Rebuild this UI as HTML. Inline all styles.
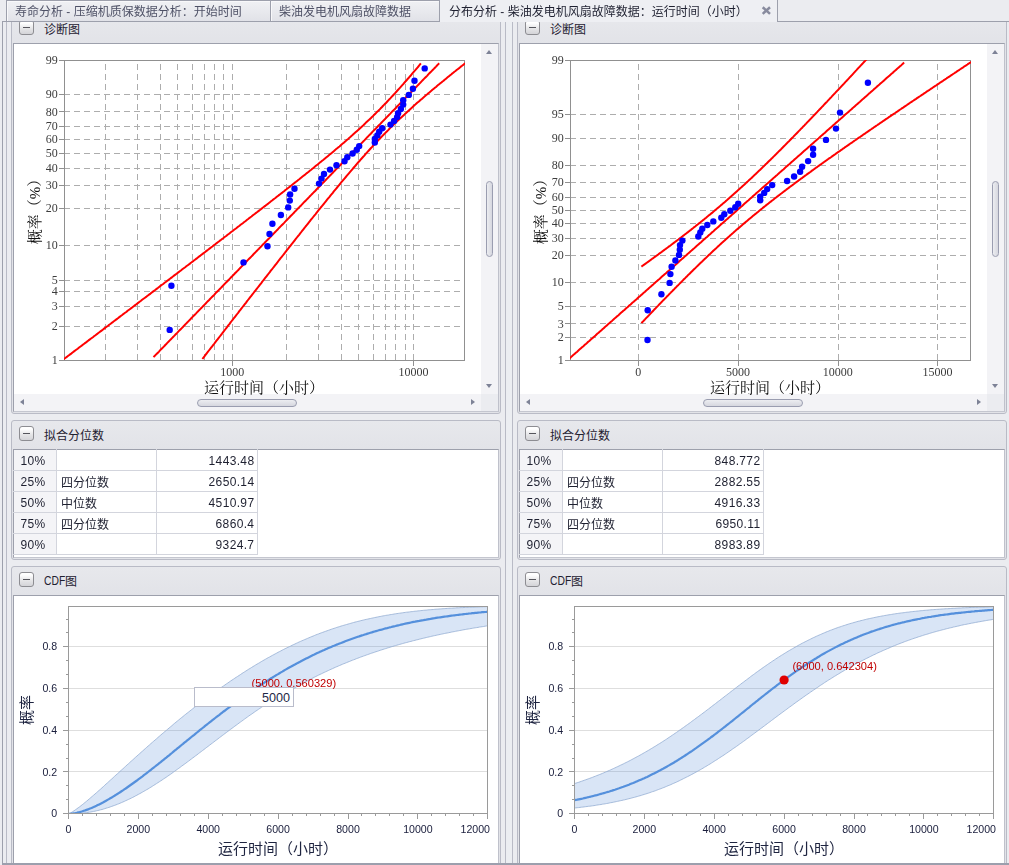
<!DOCTYPE html>
<html lang="zh"><head><meta charset="utf-8"><title>分布分析</title>
<style>
*{box-sizing:border-box;margin:0;padding:0}
html,body{width:1009px;height:865px;overflow:hidden}
body{background:#ebecf0;font-family:"Liberation Sans",sans-serif;font-size:11.8px;color:#1e2030;position:relative}
svg.g,svg.c,div.pn,div.bx,div.bt,table.tb,div.ab{position:absolute}
svg.g{overflow:visible}
svg.g text{font-family:"Liberation Sans","Noto Sans CJK SC",sans-serif}
svg.g text.sf{font-family:"Liberation Serif","Noto Serif CJK SC",serif}
svg.c{overflow:hidden}
svg.gr{will-change:transform}
.st text{font-family:"Liberation Serif",serif;font-size:12px;fill:#3c3c3c}
.tt text{font-family:"Liberation Sans",sans-serif;font-size:10.6px;fill:#1a1e3c}
text.an{font-family:"Liberation Sans",sans-serif;font-size:11.1px;fill:#c00000}
/* tab strip */
#tabs{position:absolute;left:0;top:0;width:1009px;height:22px;background:#ebecf0;z-index:5}
svg.z{z-index:6}
#tabs .ln{position:absolute;left:2px;top:21px;width:1007px;height:1px;background:#9da0ac}
.tab{position:absolute;top:0;height:22px;border-top:1px solid #9da0ac;border-left:1px solid #9da0ac;border-bottom:1px solid #9da0ac;background:linear-gradient(#f0f1f4,#e1e2e8);box-shadow:inset 1px 1px 0 #f8f8fa}
.tab.act{border:none;border-right:1px solid #9da0ac;background:#eeeff3;box-shadow:none;height:22px}
/* frame lines */
.vl{position:absolute;width:1px;background:#b9bbc6;top:22px;height:843px}
/* panels */
div.pn{border:1px solid #b9bbc6;border-radius:3px;background:linear-gradient(#e7e8ec 0,#e2e3e8 28px,#e2e3e8 100%)}
div.pn.p1{background:linear-gradient(#e8e9ed 0,#e2e3e8 33px,#e2e3e8 100%)}
div.bx{border:1px solid #9da0ac;background:#fff;border-right-color:#bfc1cb;border-bottom-color:#c4c6cf}
div.bt{width:15px;height:15px;border:1px solid #8d8d92;border-radius:3px;background:linear-gradient(#ffffff 15%,#e4e4e6 60%,#d4d4d8)}
div.bt i{position:absolute;left:3px;top:6px;width:7px;height:1px;background:#55555c}
/* scrollbars */
.vs{position:absolute;right:0;top:0;width:17px;background:#f3f3f6}
.hs{position:absolute;left:0;bottom:0;right:17px;height:17px;background:#f3f3f6}
.cn{position:absolute;right:0;bottom:0;width:17px;height:17px;background:#ebecf0}
.au,.ad,.al,.ar{position:absolute;width:0;height:0;border:3.5px solid transparent}
.au{left:5px;border-bottom:4px solid #7d8296;border-top:none;top:6px}
.ad{left:5px;bottom:6px;border-top:4px solid #7d8296;border-bottom:none}
.al{top:5px;left:6px;border-right:4px solid #7d8296;border-left:none}
.ar{top:5px;right:6px;border-left:4px solid #7d8296;border-right:none}
.tv{position:absolute;left:5px;top:137px;width:7px;height:76px;border:1px solid #9a9db0;border-radius:4px;background:linear-gradient(90deg,#ecedf1,#d6d7df)}
.th{position:absolute;top:5px;left:183px;width:100px;height:8px;border:1px solid #9a9db0;border-radius:4px;background:linear-gradient(#ecedf1,#d6d7df)}
/* table */
table.tb{border-collapse:collapse;table-layout:fixed;width:244px;font-size:12px;letter-spacing:0.35px}
table.tb td{height:21px;border:1px solid #d3d5dd;padding:2px 2.6px 0 6.5px;vertical-align:top;white-space:nowrap;background:#fff;line-height:18px}
table.tb td.k{background:#f4f4f7}
table.tb td.n{text-align:right}
table.tb tr:first-child td{border-top-color:transparent}
table.tb td:first-child{border-left-color:transparent}
</style></head><body>
<div id="tabs"><div class="ln"></div><div class="tab" style="left:6px;width:264px"></div><div class="tab" style="left:270px;width:170px;border-right:1px solid #9da0ac"></div><div class="tab act" style="left:440px;width:338px"></div></div><svg class="g z" style="left:10.60px;top:3.40px" width="236" height="18" role="img" aria-label="寿命分析 - 压缩机质保数据分析：开始时间" ><title>寿命分析 - 压缩机质保数据分析：开始时间</title><text x="4" y="13.2" font-size="12" fill="#4e5166">寿命分析 - 压缩机质保数据分析：开始时间</text></svg><svg class="g z" style="left:275.30px;top:3.40px" width="140" height="18" role="img" aria-label="柴油发电机风扇故障数据" ><title>柴油发电机风扇故障数据</title><text x="4" y="13.2" font-size="12" fill="#4e5166">柴油发电机风扇故障数据</text></svg><svg class="g z" style="left:445.00px;top:3.40px" width="308" height="18" role="img" aria-label="分布分析 - 柴油发电机风扇故障数据：运行时间（小时）" ><title>分布分析 - 柴油发电机风扇故障数据：运行时间（小时）</title><text x="4" y="13.2" font-size="12" fill="#1e2030">分布分析 - 柴油发电机风扇故障数据：运行时间（小时）</text></svg><svg class="g z" style="left:761px;top:6px" width="11" height="9" viewBox="0 0 11 9"><path d="M1.7 1.3L9 7.9M9 1.3L1.7 7.9" stroke="#888b9e" stroke-width="2.5" fill="none"/></svg><div class="vl" style="left:2px;background:#9da0ac;top:21px;height:844px"></div><div class="vl" style="left:6px"></div><div class="vl" style="left:505px"></div><div class="vl" style="left:512px"></div><div class="ab" style="left:506px;top:22px;width:6px;height:843px;background:#eceef2"></div><div class="pn p1" style="left:11px;top:10px;width:490px;height:404px"></div><div class="bx" style="left:13px;top:43px;width:486px;height:369px"><div class="vs" style="height:350px"><i class="au"></i><i class="ad"></i><b class="tv"></b></div><div class="hs"><i class="al"></i><i class="ar"></i><b class="th"></b></div><div class="cn"></div></div><div class="pn" style="left:11px;top:420px;width:490px;height:140px"></div><div class="bx" style="left:13px;top:449px;width:486px;height:109px"></div><div class="pn p3" style="left:11px;top:566px;width:490px;height:310px"></div><div class="bx" style="left:13px;top:595px;width:486px;height:269px"></div><div class="bt" style="left:19px;top:20px"><i></i></div><div class="bt" style="left:19px;top:426px"><i></i></div><div class="bt" style="left:19px;top:572px"><i></i></div><div class="pn p1" style="left:517px;top:10px;width:490px;height:404px"></div><div class="bx" style="left:519px;top:43px;width:486px;height:369px"><div class="vs" style="height:350px"><i class="au"></i><i class="ad"></i><b class="tv"></b></div><div class="hs"><i class="al"></i><i class="ar"></i><b class="th"></b></div><div class="cn"></div></div><div class="pn" style="left:517px;top:420px;width:490px;height:140px"></div><div class="bx" style="left:519px;top:449px;width:486px;height:109px"></div><div class="pn p3" style="left:517px;top:566px;width:490px;height:310px"></div><div class="bx" style="left:519px;top:595px;width:486px;height:269px"></div><div class="bt" style="left:525px;top:20px"><i></i></div><div class="bt" style="left:525px;top:426px"><i></i></div><div class="bt" style="left:525px;top:572px"><i></i></div><svg class="g" style="left:39.60px;top:20.80px" width="44" height="18" role="img" aria-label="诊断图" ><title>诊断图</title><text x="4" y="13.2" font-size="12" fill="#1e2030">诊断图</text></svg><svg class="g" style="left:39.60px;top:426.80px" width="68" height="18" role="img" aria-label="拟合分位数" ><title>拟合分位数</title><text x="4" y="13.2" font-size="12" fill="#1e2030">拟合分位数</text></svg><div class="ab" style="left:44px;top:573.7px;font-size:12px;line-height:14px;color:#1e2030;transform:scaleX(0.86);transform-origin:0 0">CDF</div><svg class="g" style="left:61.00px;top:572.80px" width="20" height="18" role="img" aria-label="图" ><title>图</title><text x="4" y="13.2" font-size="12" fill="#1e2030">图</text></svg><svg class="g" style="left:545.60px;top:20.80px" width="44" height="18" role="img" aria-label="诊断图" ><title>诊断图</title><text x="4" y="13.2" font-size="12" fill="#1e2030">诊断图</text></svg><svg class="g" style="left:545.60px;top:426.80px" width="68" height="18" role="img" aria-label="拟合分位数" ><title>拟合分位数</title><text x="4" y="13.2" font-size="12" fill="#1e2030">拟合分位数</text></svg><div class="ab" style="left:550px;top:573.7px;font-size:12px;line-height:14px;color:#1e2030;transform:scaleX(0.86);transform-origin:0 0">CDF</div><svg class="g" style="left:567.00px;top:572.80px" width="20" height="18" role="img" aria-label="图" ><title>图</title><text x="4" y="13.2" font-size="12" fill="#1e2030">图</text></svg><svg class="c gr" style="left:0px;top:0" width="505" height="420" viewBox="0 0 505 420"><defs><clipPath id="wc0"><rect x="64" y="60" width="401" height="301"/></clipPath></defs><path d="M64 326.5H464M64 306.5H464M64 291.5H464M64 280.5H464M64 245.5H464M64 208.5H464M64 185.5H464M64 168.5H464M64 153.5H464M64 139.5H464M64 126.5H464M64 111.5H464M64 94.5H464M105.5 64V360M137.5 64V360M160.5 64V360M177.5 64V360M192.5 64V360M204.5 64V360M214.5 64V360M223.5 64V360M232.5 64V360M286.5 64V360M318.5 64V360M341.5 64V360M358.5 64V360M373.5 64V360M385.5 64V360M395.5 64V360M405.5 64V360M413.5 64V360" stroke="#adadad" stroke-width="1" stroke-dasharray="6 4" fill="none" shape-rendering="crispEdges"/><path d="M59 360.5H64M59 326.5H64M59 306.5H64M59 291.5H64M59 280.5H64M59 245.5H64M59 208.5H64M59 185.5H64M59 168.5H64M59 153.5H64M59 139.5H64M59 126.5H64M59 111.5H64M59 94.5H64M59 60.5H64M232.5 360V366M413.5 360V366" stroke="#909090" stroke-width="1" fill="none" shape-rendering="crispEdges"/><rect x="64.5" y="60.5" width="400" height="300" fill="none" stroke="#909090" shape-rendering="crispEdges"/><g clip-path="url(#wc0)" fill="none" stroke="#ff0000" stroke-width="2" stroke-linejoin="round"><path d="M61.4 361L62.5 360.1L63.5 359.3L64.6 358.5L65.7 357.7L66.8 356.9L67.9 356L69 355.2L70.1 354.4L71.2 353.6L72.2 352.8L73.3 351.9L74.4 351.1L75.5 350.3L76.6 349.5L77.7 348.7L78.8 347.8L79.8 347L80.9 346.2L82 345.4L83.1 344.5L84.2 343.7L85.3 342.9L86.4 342.1L87.4 341.3L88.5 340.4L89.6 339.6L90.7 338.8L91.8 338L92.9 337.2L94 336.3L95.1 335.5L96.1 334.7L97.2 333.9L98.3 333L99.4 332.2L100.5 331.4L101.6 330.6L102.7 329.8L103.7 328.9L104.8 328.1L105.9 327.3L107 326.5L108.1 325.7L109.2 324.8L110.3 324L111.3 323.2L112.4 322.4L113.5 321.5L114.6 320.7L115.7 319.9L116.8 319.1L117.9 318.3L118.9 317.4L120 316.6L121.1 315.8L122.2 315L123.3 314.1L124.4 313.3L125.5 312.5L126.6 311.7L127.6 310.8L128.7 310L129.8 309.2L130.9 308.4L132 307.6L133.1 306.7L134.2 305.9L135.2 305.1L136.3 304.3L137.4 303.4L138.5 302.6L139.6 301.8L140.7 301L141.8 300.1L142.8 299.3L143.9 298.5L145 297.7L146.1 296.9L147.2 296L148.3 295.2L149.4 294.4L150.5 293.6L151.5 292.7L152.6 291.9L153.7 291.1L154.8 290.3L155.9 289.4L157 288.6L158.1 287.8L159.1 287L160.2 286.1L161.3 285.3L162.4 284.5L163.5 283.7L164.6 282.8L165.7 282L166.7 281.2L167.8 280.4L168.9 279.5L170 278.7L171.1 277.9L172.2 277.1L173.3 276.2L174.3 275.4L175.4 274.6L176.5 273.8L177.6 272.9L178.7 272.1L179.8 271.3L180.9 270.5L182 269.6L183 268.8L184.1 268L185.2 267.2L186.3 266.3L187.4 265.5L188.5 264.7L189.6 263.9L190.6 263L191.7 262.2L192.8 261.4L193.9 260.5L195 259.7L196.1 258.9L197.2 258.1L198.2 257.2L199.3 256.4L200.4 255.6L201.5 254.7L202.6 253.9L203.7 253.1L204.8 252.3L205.8 251.4L206.9 250.6L208 249.8L209.1 248.9L210.2 248.1L211.3 247.3L212.4 246.5L213.5 245.6L214.5 244.8L215.6 244L216.7 243.1L217.8 242.3L218.9 241.5L220 240.6L221.1 239.8L222.1 239L223.2 238.2L224.3 237.3L225.4 236.5L226.5 235.7L227.6 234.8L228.7 234L229.7 233.2L230.8 232.3L231.9 231.5L233 230.7L234.1 229.8L235.2 229L236.3 228.2L237.4 227.3L238.4 226.5L239.5 225.7L240.6 224.8L241.7 224L242.8 223.2L243.9 222.3L245 221.5L246 220.7L247.1 219.8L248.2 219L249.3 218.1L250.4 217.3L251.5 216.5L252.6 215.6L253.6 214.8L254.7 214L255.8 213.1L256.9 212.3L258 211.4L259.1 210.6L260.2 209.8L261.2 208.9L262.3 208.1L263.4 207.2L264.5 206.4L265.6 205.6L266.7 204.7L267.8 203.9L268.9 203L269.9 202.2L271 201.3L272.1 200.5L273.2 199.6L274.3 198.8L275.4 198L276.5 197.1L277.5 196.3L278.6 195.4L279.7 194.6L280.8 193.7L281.9 192.9L283 192L284.1 191.2L285.1 190.3L286.2 189.5L287.3 188.6L288.4 187.8L289.5 186.9L290.6 186.1L291.7 185.2L292.8 184.3L293.8 183.5L294.9 182.6L296 181.8L297.1 180.9L298.2 180L299.3 179.2L300.4 178.3L301.4 177.5L302.5 176.6L303.6 175.7L304.7 174.9L305.8 174L306.9 173.1L308 172.3L309 171.4L310.1 170.5L311.2 169.7L312.3 168.8L313.4 167.9L314.5 167L315.6 166.1L316.6 165.3L317.7 164.4L318.8 163.5L319.9 162.6L321 161.7L322.1 160.8L323.2 160L324.3 159.1L325.3 158.2L326.4 157.3L327.5 156.4L328.6 155.5L329.7 154.6L330.8 153.7L331.9 152.8L332.9 151.9L334 151L335.1 150L336.2 149.1L337.3 148.2L338.4 147.3L339.5 146.4L340.5 145.5L341.6 144.5L342.7 143.6L343.8 142.7L344.9 141.7L346 140.8L347.1 139.8L348.2 138.9L349.2 137.9L350.3 137L351.4 136L352.5 135.1L353.6 134.1L354.7 133.1L355.8 132.1L356.8 131.2L357.9 130.2L359 129.2L360.1 128.2L361.2 127.2L362.3 126.2L363.4 125.2L364.4 124.2L365.5 123.1L366.6 122.1L367.7 121.1L368.8 120.1L369.9 119L371 118L372 116.9L373.1 115.9L374.2 114.8L375.3 113.7L376.4 112.6L377.5 111.6L378.6 110.5L379.7 109.4L380.7 108.3L381.8 107.2L382.9 106L384 104.9L385.1 103.8L386.2 102.7L387.3 101.5L388.3 100.4L389.4 99.2L390.5 98.1L391.6 96.9L392.7 95.7L393.8 94.5L394.9 93.4L395.9 92.2L397 91L398.1 89.8L399.2 88.6L400.3 87.4L401.4 86.1L402.5 84.9L403.6 83.7L404.6 82.5L405.7 81.2L406.8 80L407.9 78.7L409 77.5L410.1 76.2L411.2 75L412.2 73.7L413.3 72.4L414.4 71.1L415.5 69.9L416.6 68.6L417.7 67.3L418.8 66L419.8 64.7L420.9 63.4"/><path d="M153.5 357.1L154.6 356L155.7 354.9L156.8 353.8L157.9 352.7L159 351.6L160 350.4L161.1 349.3L162.2 348.2L163.3 347.1L164.4 346L165.5 344.8L166.6 343.7L167.6 342.6L168.7 341.5L169.8 340.4L170.9 339.3L172 338.1L173.1 337L174.2 335.9L175.2 334.8L176.3 333.7L177.4 332.6L178.5 331.4L179.6 330.3L180.7 329.2L181.8 328.1L182.9 327L183.9 325.9L185 324.7L186.1 323.6L187.2 322.5L188.3 321.4L189.4 320.3L190.5 319.1L191.5 318L192.6 316.9L193.7 315.8L194.8 314.7L195.9 313.6L197 312.4L198.1 311.3L199.1 310.2L200.2 309.1L201.3 308L202.4 306.9L203.5 305.7L204.6 304.6L205.7 303.5L206.7 302.4L207.8 301.3L208.9 300.2L210 299L211.1 297.9L212.2 296.8L213.3 295.7L214.4 294.6L215.4 293.4L216.5 292.3L217.6 291.2L218.7 290.1L219.8 289L220.9 287.9L222 286.7L223 285.6L224.1 284.5L225.2 283.4L226.3 282.3L227.4 281.2L228.5 280L229.6 278.9L230.6 277.8L231.7 276.7L232.8 275.6L233.9 274.5L235 273.3L236.1 272.2L237.2 271.1L238.3 270L239.3 268.9L240.4 267.7L241.5 266.6L242.6 265.5L243.7 264.4L244.8 263.3L245.9 262.2L246.9 261L248 259.9L249.1 258.8L250.2 257.7L251.3 256.6L252.4 255.5L253.5 254.3L254.5 253.2L255.6 252.1L256.7 251L257.8 249.9L258.9 248.8L260 247.6L261.1 246.5L262.1 245.4L263.2 244.3L264.3 243.2L265.4 242L266.5 240.9L267.6 239.8L268.7 238.7L269.8 237.6L270.8 236.5L271.9 235.3L273 234.2L274.1 233.1L275.2 232L276.3 230.9L277.4 229.8L278.4 228.6L279.5 227.5L280.6 226.4L281.7 225.3L282.8 224.2L283.9 223.1L285 221.9L286 220.8L287.1 219.7L288.2 218.6L289.3 217.5L290.4 216.3L291.5 215.2L292.6 214.1L293.7 213L294.7 211.9L295.8 210.8L296.9 209.6L298 208.5L299.1 207.4L300.2 206.3L301.3 205.2L302.3 204.1L303.4 202.9L304.5 201.8L305.6 200.7L306.7 199.6L307.8 198.5L308.9 197.4L309.9 196.2L311 195.1L312.1 194L313.2 192.9L314.3 191.8L315.4 190.7L316.5 189.5L317.5 188.4L318.6 187.3L319.7 186.2L320.8 185.1L321.9 183.9L323 182.8L324.1 181.7L325.2 180.6L326.2 179.5L327.3 178.4L328.4 177.2L329.5 176.1L330.6 175L331.7 173.9L332.8 172.8L333.8 171.7L334.9 170.5L336 169.4L337.1 168.3L338.2 167.2L339.3 166.1L340.4 165L341.4 163.8L342.5 162.7L343.6 161.6L344.7 160.5L345.8 159.4L346.9 158.2L348 157.1L349.1 156L350.1 154.9L351.2 153.8L352.3 152.7L353.4 151.5L354.5 150.4L355.6 149.3L356.7 148.2L357.7 147.1L358.8 146L359.9 144.8L361 143.7L362.1 142.6L363.2 141.5L364.3 140.4L365.3 139.3L366.4 138.1L367.5 137L368.6 135.9L369.7 134.8L370.8 133.7L371.9 132.5L372.9 131.4L374 130.3L375.1 129.2L376.2 128.1L377.3 127L378.4 125.8L379.5 124.7L380.6 123.6L381.6 122.5L382.7 121.4L383.8 120.3L384.9 119.1L386 118L387.1 116.9L388.2 115.8L389.2 114.7L390.3 113.6L391.4 112.4L392.5 111.3L393.6 110.2L394.7 109.1L395.8 108L396.8 106.8L397.9 105.7L399 104.6L400.1 103.5L401.2 102.4L402.3 101.3L403.4 100.1L404.5 99L405.5 97.9L406.6 96.8L407.7 95.7L408.8 94.6L409.9 93.4L411 92.3L412.1 91.2L413.1 90.1L414.2 89L415.3 87.9L416.4 86.7L417.5 85.6L418.6 84.5L419.7 83.4L420.7 82.3L421.8 81.1L422.9 80L424 78.9L425.1 77.8L426.2 76.7L427.3 75.6L428.3 74.4L429.4 73.3L430.5 72.2L431.6 71.1L432.7 70L433.8 68.9L434.9 67.7L436 66.6L437 65.5L438.1 64.4L439.2 63.3"/><path d="M202.4 359L203.5 357.6L204.6 356.2L205.7 354.7L206.7 353.3L207.8 351.9L208.9 350.5L210 349.1L211.1 347.7L212.2 346.3L213.3 344.9L214.4 343.5L215.4 342.1L216.5 340.7L217.6 339.3L218.7 337.9L219.8 336.5L220.9 335.1L222 333.7L223 332.3L224.1 330.9L225.2 329.5L226.3 328.1L227.4 326.7L228.5 325.2L229.6 323.8L230.6 322.4L231.7 321L232.8 319.6L233.9 318.2L235 316.8L236.1 315.4L237.2 314L238.3 312.6L239.3 311.2L240.4 309.8L241.5 308.4L242.6 307L243.7 305.6L244.8 304.2L245.9 302.8L246.9 301.4L248 300L249.1 298.6L250.2 297.2L251.3 295.8L252.4 294.4L253.5 293L254.5 291.7L255.6 290.3L256.7 288.9L257.8 287.5L258.9 286.1L260 284.7L261.1 283.3L262.1 281.9L263.2 280.5L264.3 279.1L265.4 277.7L266.5 276.3L267.6 274.9L268.7 273.5L269.8 272.1L270.8 270.7L271.9 269.4L273 268L274.1 266.6L275.2 265.2L276.3 263.8L277.4 262.4L278.4 261L279.5 259.6L280.6 258.2L281.7 256.9L282.8 255.5L283.9 254.1L285 252.7L286 251.3L287.1 249.9L288.2 248.6L289.3 247.2L290.4 245.8L291.5 244.4L292.6 243L293.7 241.7L294.7 240.3L295.8 238.9L296.9 237.5L298 236.1L299.1 234.8L300.2 233.4L301.3 232L302.3 230.7L303.4 229.3L304.5 227.9L305.6 226.5L306.7 225.2L307.8 223.8L308.9 222.4L309.9 221.1L311 219.7L312.1 218.4L313.2 217L314.3 215.6L315.4 214.3L316.5 212.9L317.5 211.6L318.6 210.2L319.7 208.9L320.8 207.5L321.9 206.2L323 204.8L324.1 203.5L325.2 202.1L326.2 200.8L327.3 199.4L328.4 198.1L329.5 196.8L330.6 195.4L331.7 194.1L332.8 192.8L333.8 191.4L334.9 190.1L336 188.8L337.1 187.5L338.2 186.2L339.3 184.8L340.4 183.5L341.4 182.2L342.5 180.9L343.6 179.6L344.7 178.3L345.8 177L346.9 175.7L348 174.4L349.1 173.1L350.1 171.9L351.2 170.6L352.3 169.3L353.4 168L354.5 166.8L355.6 165.5L356.7 164.2L357.7 163L358.8 161.7L359.9 160.5L361 159.2L362.1 158L363.2 156.8L364.3 155.6L365.3 154.3L366.4 153.1L367.5 151.9L368.6 150.7L369.7 149.5L370.8 148.3L371.9 147.1L372.9 145.9L374 144.8L375.1 143.6L376.2 142.4L377.3 141.3L378.4 140.1L379.5 139L380.6 137.8L381.6 136.7L382.7 135.6L383.8 134.5L384.9 133.4L386 132.3L387.1 131.2L388.2 130.1L389.2 129L390.3 127.9L391.4 126.8L392.5 125.7L393.6 124.7L394.7 123.6L395.8 122.6L396.8 121.5L397.9 120.5L399 119.5L400.1 118.4L401.2 117.4L402.3 116.4L403.4 115.4L404.5 114.4L405.5 113.4L406.6 112.4L407.7 111.4L408.8 110.4L409.9 109.4L411 108.4L412.1 107.5L413.1 106.5L414.2 105.5L415.3 104.6L416.4 103.6L417.5 102.6L418.6 101.7L419.7 100.8L420.7 99.8L421.8 98.9L422.9 97.9L424 97L425.1 96.1L426.2 95.1L427.3 94.2L428.3 93.3L429.4 92.4L430.5 91.5L431.6 90.6L432.7 89.6L433.8 88.7L434.9 87.8L436 86.9L437 86L438.1 85.1L439.2 84.2L440.3 83.3L441.4 82.4L442.5 81.5L443.6 80.7L444.6 79.8L445.7 78.9L446.8 78L447.9 77.1L449 76.2L450.1 75.3L451.2 74.5L452.2 73.6L453.3 72.7L454.4 71.8L455.5 71L456.6 70.1L457.7 69.2L458.8 68.4L459.9 67.5L460.9 66.6L462 65.8L463.1 64.9L464.2 64L465.3 63.2"/></g><g fill="#0000ff"><circle cx="169.7" cy="329.9" r="3.2"/><circle cx="171.4" cy="285.8" r="3.2"/><circle cx="243.5" cy="262.4" r="3.2"/><circle cx="267.5" cy="246.3" r="3.2"/><circle cx="269.5" cy="233.9" r="3.2"/><circle cx="272.4" cy="223.7" r="3.2"/><circle cx="280.9" cy="215" r="3.2"/><circle cx="288.2" cy="207.4" r="3.2"/><circle cx="289.8" cy="200.6" r="3.2"/><circle cx="290.1" cy="194.5" r="3.2"/><circle cx="294.5" cy="188.8" r="3.2"/><circle cx="319" cy="183.6" r="3.2"/><circle cx="321.5" cy="178.6" r="3.2"/><circle cx="324" cy="174" r="3.2"/><circle cx="330" cy="169.6" r="3.2"/><circle cx="336.5" cy="165.3" r="3.2"/><circle cx="344.5" cy="161.3" r="3.2"/><circle cx="347.3" cy="157.3" r="3.2"/><circle cx="352.6" cy="153.5" r="3.2"/><circle cx="356.8" cy="149.8" r="3.2"/><circle cx="359.2" cy="146.1" r="3.2"/><circle cx="374.8" cy="142.5" r="3.2"/><circle cx="374.8" cy="138.9" r="3.2"/><circle cx="377.3" cy="135.4" r="3.2"/><circle cx="379.2" cy="131.8" r="3.2"/><circle cx="382.2" cy="128.2" r="3.2"/><circle cx="390.5" cy="124.6" r="3.2"/><circle cx="394.1" cy="120.9" r="3.2"/><circle cx="397.1" cy="117.1" r="3.2"/><circle cx="398.1" cy="113.2" r="3.2"/><circle cx="400.9" cy="109" r="3.2"/><circle cx="403.2" cy="104.6" r="3.2"/><circle cx="403.2" cy="100.3" r="3.2"/><circle cx="408.8" cy="94.9" r="3.2"/><circle cx="412.9" cy="88.7" r="3.2"/><circle cx="414.5" cy="80.7" r="3.2"/><circle cx="424.7" cy="68.4" r="3.2"/></g><g class="st"><text x="57.8" y="364.0" text-anchor="end">1</text><text x="57.8" y="329.8" text-anchor="end">2</text><text x="57.8" y="309.7" text-anchor="end">3</text><text x="57.8" y="295.4" text-anchor="end">4</text><text x="57.8" y="284.2" text-anchor="end">5</text><text x="57.8" y="249.0" text-anchor="end">10</text><text x="57.8" y="212.2" text-anchor="end">20</text><text x="57.8" y="189.2" text-anchor="end">30</text><text x="57.8" y="171.7" text-anchor="end">40</text><text x="57.8" y="156.7" text-anchor="end">50</text><text x="57.8" y="143.1" text-anchor="end">60</text><text x="57.8" y="129.7" text-anchor="end">70</text><text x="57.8" y="115.5" text-anchor="end">80</text><text x="57.8" y="97.9" text-anchor="end">90</text><text x="57.8" y="64.0" text-anchor="end">99</text><text x="232.3" y="376" text-anchor="middle">1000</text><text x="413.5" y="376" text-anchor="middle">10000</text></g></svg><svg class="c gr" style="left:506px;top:0" width="503" height="420" viewBox="0 0 503 420"><defs><clipPath id="lc506"><rect x="64" y="60" width="401" height="301"/></clipPath></defs><path d="M64 337.5H464M64 323.5H464M64 306.5H464M64 282.5H464M64 255.5H464M64 238.5H464M64 223.5H464M64 210.5H464M64 197.5H464M64 182.5H464M64 165.5H464M64 138.5H464M64 114.5H464M132.5 64V360M232.5 64V360M332.5 64V360M431.5 64V360" stroke="#adadad" stroke-width="1" stroke-dasharray="6 4" fill="none" shape-rendering="crispEdges"/><path d="M59 360.5H64M59 337.5H64M59 323.5H64M59 306.5H64M59 282.5H64M59 255.5H64M59 238.5H64M59 223.5H64M59 210.5H64M59 197.5H64M59 182.5H64M59 165.5H64M59 138.5H64M59 114.5H64M59 60.5H64M132.5 360V366M232.5 360V366M332.5 360V366M431.5 360V366" stroke="#909090" stroke-width="1" fill="none" shape-rendering="crispEdges"/><rect x="64.5" y="60.5" width="400" height="300" fill="none" stroke="#909090" shape-rendering="crispEdges"/><g clip-path="url(#lc506)" fill="none" stroke="#ff0000" stroke-width="2" stroke-linejoin="round"><path d="M135.4 266.6L136.2 266L137.1 265.4L137.9 264.8L138.8 264.2L139.6 263.6L140.4 263L141.3 262.4L142.1 261.8L143 261.2L143.8 260.6L144.6 259.9L145.5 259.3L146.3 258.7L147.2 258.1L148 257.5L148.8 256.9L149.7 256.3L150.5 255.7L151.4 255.1L152.2 254.5L153 253.8L153.9 253.2L154.7 252.6L155.6 252L156.4 251.4L157.2 250.8L158.1 250.1L158.9 249.5L159.8 248.9L160.6 248.3L161.4 247.7L162.3 247L163.1 246.4L164 245.8L164.8 245.2L165.6 244.5L166.5 243.9L167.3 243.3L168.2 242.6L169 242L169.8 241.4L170.7 240.7L171.5 240.1L172.4 239.5L173.2 238.8L174 238.2L174.9 237.6L175.7 236.9L176.6 236.3L177.4 235.6L178.2 235L179.1 234.3L179.9 233.7L180.8 233L181.6 232.4L182.4 231.7L183.3 231.1L184.1 230.4L185 229.8L185.8 229.1L186.6 228.5L187.5 227.8L188.3 227.1L189.2 226.5L190 225.8L190.8 225.1L191.7 224.5L192.5 223.8L193.4 223.1L194.2 222.5L195 221.8L195.9 221.1L196.7 220.4L197.6 219.7L198.4 219.1L199.2 218.4L200.1 217.7L200.9 217L201.8 216.3L202.6 215.6L203.4 214.9L204.3 214.3L205.1 213.6L206 212.9L206.8 212.2L207.6 211.5L208.5 210.8L209.3 210.1L210.2 209.4L211 208.6L211.8 207.9L212.7 207.2L213.5 206.5L214.4 205.8L215.2 205.1L216 204.4L216.9 203.6L217.7 202.9L218.6 202.2L219.4 201.5L220.2 200.7L221.1 200L221.9 199.3L222.8 198.5L223.6 197.8L224.4 197.1L225.3 196.3L226.1 195.6L227 194.8L227.8 194.1L228.6 193.3L229.5 192.6L230.3 191.8L231.2 191.1L232 190.3L232.8 189.6L233.7 188.8L234.5 188L235.4 187.3L236.2 186.5L237 185.7L237.9 185L238.7 184.2L239.6 183.4L240.4 182.6L241.3 181.9L242.1 181.1L242.9 180.3L243.8 179.5L244.6 178.7L245.5 178L246.3 177.2L247.1 176.4L248 175.6L248.8 174.8L249.7 174L250.5 173.2L251.3 172.4L252.2 171.6L253 170.8L253.9 170L254.7 169.2L255.5 168.4L256.4 167.6L257.2 166.7L258.1 165.9L258.9 165.1L259.7 164.3L260.6 163.5L261.4 162.7L262.3 161.8L263.1 161L263.9 160.2L264.8 159.4L265.6 158.5L266.5 157.7L267.3 156.9L268.1 156.1L269 155.2L269.8 154.4L270.7 153.6L271.5 152.7L272.3 151.9L273.2 151L274 150.2L274.9 149.4L275.7 148.5L276.5 147.7L277.4 146.8L278.2 146L279.1 145.1L279.9 144.3L280.7 143.4L281.6 142.6L282.4 141.7L283.3 140.9L284.1 140L284.9 139.2L285.8 138.3L286.6 137.5L287.5 136.6L288.3 135.7L289.1 134.9L290 134L290.8 133.2L291.7 132.3L292.5 131.4L293.3 130.6L294.2 129.7L295 128.8L295.9 128L296.7 127.1L297.5 126.2L298.4 125.4L299.2 124.5L300.1 123.6L300.9 122.7L301.7 121.9L302.6 121L303.4 120.1L304.3 119.2L305.1 118.4L305.9 117.5L306.8 116.6L307.6 115.7L308.5 114.8L309.3 114L310.1 113.1L311 112.2L311.8 111.3L312.7 110.4L313.5 109.5L314.3 108.7L315.2 107.8L316 106.9L316.9 106L317.7 105.1L318.5 104.2L319.4 103.3L320.2 102.5L321.1 101.6L321.9 100.7L322.7 99.8L323.6 98.9L324.4 98L325.3 97.1L326.1 96.2L326.9 95.3L327.8 94.4L328.6 93.5L329.5 92.6L330.3 91.7L331.1 90.9L332 90L332.8 89.1L333.7 88.2L334.5 87.3L335.3 86.4L336.2 85.5L337 84.6L337.9 83.7L338.7 82.8L339.5 81.9L340.4 81L341.2 80.1L342.1 79.2L342.9 78.3L343.7 77.4L344.6 76.5L345.4 75.6L346.3 74.7L347.1 73.8L347.9 72.9L348.8 72L349.6 71L350.5 70.1L351.3 69.2L352.1 68.3L353 67.4L353.8 66.5L354.7 65.6L355.5 64.7L356.4 63.8L357.2 62.9L358 62L358.9 61.1L359.7 60.2L360.6 59.3L361.4 58.4L362.2 57.4"/><path d="M58.5 362.8L59.5 361.9L60.5 361L61.6 360.1L62.6 359.2L63.6 358.3L64.7 357.4L65.7 356.4L66.7 355.5L67.8 354.6L68.8 353.7L69.8 352.8L70.9 351.9L71.9 351L72.9 350.1L74 349.1L75 348.2L76 347.3L77.1 346.4L78.1 345.5L79.1 344.6L80.2 343.7L81.2 342.8L82.2 341.8L83.3 340.9L84.3 340L85.3 339.1L86.4 338.2L87.4 337.3L88.4 336.4L89.5 335.5L90.5 334.5L91.5 333.6L92.6 332.7L93.6 331.8L94.6 330.9L95.7 330L96.7 329.1L97.7 328.2L98.7 327.2L99.8 326.3L100.8 325.4L101.8 324.5L102.9 323.6L103.9 322.7L104.9 321.8L106 320.9L107 319.9L108 319L109.1 318.1L110.1 317.2L111.1 316.3L112.2 315.4L113.2 314.5L114.2 313.6L115.3 312.6L116.3 311.7L117.3 310.8L118.4 309.9L119.4 309L120.4 308.1L121.5 307.2L122.5 306.3L123.5 305.3L124.6 304.4L125.6 303.5L126.6 302.6L127.7 301.7L128.7 300.8L129.7 299.9L130.8 299L131.8 298L132.8 297.1L133.9 296.2L134.9 295.3L135.9 294.4L136.9 293.5L138 292.6L139 291.7L140 290.7L141.1 289.8L142.1 288.9L143.1 288L144.2 287.1L145.2 286.2L146.2 285.3L147.3 284.4L148.3 283.4L149.3 282.5L150.4 281.6L151.4 280.7L152.4 279.8L153.5 278.9L154.5 278L155.5 277.1L156.6 276.1L157.6 275.2L158.6 274.3L159.7 273.4L160.7 272.5L161.7 271.6L162.8 270.7L163.8 269.8L164.8 268.8L165.9 267.9L166.9 267L167.9 266.1L169 265.2L170 264.3L171 263.4L172.1 262.5L173.1 261.5L174.1 260.6L175.1 259.7L176.2 258.8L177.2 257.9L178.2 257L179.3 256.1L180.3 255.2L181.3 254.2L182.4 253.3L183.4 252.4L184.4 251.5L185.5 250.6L186.5 249.7L187.5 248.8L188.6 247.9L189.6 246.9L190.6 246L191.7 245.1L192.7 244.2L193.7 243.3L194.8 242.4L195.8 241.5L196.8 240.6L197.9 239.6L198.9 238.7L199.9 237.8L201 236.9L202 236L203 235.1L204.1 234.2L205.1 233.3L206.1 232.3L207.2 231.4L208.2 230.5L209.2 229.6L210.2 228.7L211.3 227.8L212.3 226.9L213.3 226L214.4 225L215.4 224.1L216.4 223.2L217.5 222.3L218.5 221.4L219.5 220.5L220.6 219.6L221.6 218.7L222.6 217.7L223.7 216.8L224.7 215.9L225.7 215L226.8 214.1L227.8 213.2L228.8 212.3L229.9 211.4L230.9 210.4L231.9 209.5L233 208.6L234 207.7L235 206.8L236.1 205.9L237.1 205L238.1 204.1L239.2 203.1L240.2 202.2L241.2 201.3L242.3 200.4L243.3 199.5L244.3 198.6L245.4 197.7L246.4 196.8L247.4 195.8L248.4 194.9L249.5 194L250.5 193.1L251.5 192.2L252.6 191.3L253.6 190.4L254.6 189.5L255.7 188.5L256.7 187.6L257.7 186.7L258.8 185.8L259.8 184.9L260.8 184L261.9 183.1L262.9 182.2L263.9 181.2L265 180.3L266 179.4L267 178.5L268.1 177.6L269.1 176.7L270.1 175.8L271.2 174.9L272.2 173.9L273.2 173L274.3 172.1L275.3 171.2L276.3 170.3L277.4 169.4L278.4 168.5L279.4 167.6L280.5 166.6L281.5 165.7L282.5 164.8L283.6 163.9L284.6 163L285.6 162.1L286.6 161.2L287.7 160.3L288.7 159.3L289.7 158.4L290.8 157.5L291.8 156.6L292.8 155.7L293.9 154.8L294.9 153.9L295.9 153L297 152L298 151.1L299 150.2L300.1 149.3L301.1 148.4L302.1 147.5L303.2 146.6L304.2 145.7L305.2 144.7L306.3 143.8L307.3 142.9L308.3 142L309.4 141.1L310.4 140.2L311.4 139.3L312.5 138.4L313.5 137.4L314.5 136.5L315.6 135.6L316.6 134.7L317.6 133.8L318.7 132.9L319.7 132L320.7 131.1L321.8 130.1L322.8 129.2L323.8 128.3L324.8 127.4L325.9 126.5L326.9 125.6L327.9 124.7L329 123.8L330 122.8L331 121.9L332.1 121L333.1 120.1L334.1 119.2L335.2 118.3L336.2 117.4L337.2 116.5L338.3 115.5L339.3 114.6L340.3 113.7L341.4 112.8L342.4 111.9L343.4 111L344.5 110.1L345.5 109.2L346.5 108.2L347.6 107.3L348.6 106.4L349.6 105.5L350.7 104.6L351.7 103.7L352.7 102.8L353.8 101.9L354.8 100.9L355.8 100L356.9 99.1L357.9 98.2L358.9 97.3L359.9 96.4L361 95.5L362 94.6L363 93.6L364.1 92.7L365.1 91.8L366.1 90.9L367.2 90L368.2 89.1L369.2 88.2L370.3 87.3L371.3 86.3L372.3 85.4L373.4 84.5L374.4 83.6L375.4 82.7L376.5 81.8L377.5 80.9L378.5 80L379.6 79L380.6 78.1L381.6 77.2L382.7 76.3L383.7 75.4L384.7 74.5L385.8 73.6L386.8 72.7L387.8 71.7L388.9 70.8L389.9 69.9L390.9 69L392 68.1L393 67.2L394 66.3L395.1 65.4L396.1 64.4L397.1 63.5L398.1 62.6"/><path d="M135.4 323.1L136.2 322.3L137.1 321.4L137.9 320.5L138.8 319.6L139.6 318.7L140.4 317.8L141.3 317L142.1 316.1L143 315.2L143.8 314.3L144.6 313.4L145.5 312.6L146.3 311.7L147.2 310.8L148 309.9L148.8 309L149.7 308.2L150.5 307.3L151.4 306.4L152.2 305.6L153 304.7L153.9 303.8L154.7 302.9L155.6 302.1L156.4 301.2L157.2 300.3L158.1 299.5L158.9 298.6L159.8 297.7L160.6 296.9L161.4 296L162.3 295.2L163.1 294.3L164 293.4L164.8 292.6L165.6 291.7L166.5 290.9L167.3 290L168.2 289.2L169 288.3L169.8 287.5L170.7 286.6L171.5 285.7L172.4 284.9L173.2 284.1L174 283.2L174.9 282.4L175.7 281.5L176.6 280.7L177.4 279.8L178.2 279L179.1 278.2L179.9 277.3L180.8 276.5L181.6 275.6L182.4 274.8L183.3 274L184.1 273.2L185 272.3L185.8 271.5L186.6 270.7L187.5 269.8L188.3 269L189.2 268.2L190 267.4L190.8 266.6L191.7 265.7L192.5 264.9L193.4 264.1L194.2 263.3L195 262.5L195.9 261.7L196.7 260.9L197.6 260.1L198.4 259.3L199.2 258.5L200.1 257.7L200.9 256.9L201.8 256.1L202.6 255.3L203.4 254.5L204.3 253.7L205.1 252.9L206 252.1L206.8 251.3L207.6 250.5L208.5 249.7L209.3 249L210.2 248.2L211 247.4L211.8 246.6L212.7 245.9L213.5 245.1L214.4 244.3L215.2 243.5L216 242.8L216.9 242L217.7 241.3L218.6 240.5L219.4 239.7L220.2 239L221.1 238.2L221.9 237.5L222.8 236.7L223.6 236L224.4 235.2L225.3 234.5L226.1 233.7L227 233L227.8 232.3L228.6 231.5L229.5 230.8L230.3 230.1L231.2 229.3L232 228.6L232.8 227.9L233.7 227.2L234.5 226.4L235.4 225.7L236.2 225L237 224.3L237.9 223.6L238.7 222.8L239.6 222.1L240.4 221.4L241.3 220.7L242.1 220L242.9 219.3L243.8 218.6L244.6 217.9L245.5 217.2L246.3 216.5L247.1 215.8L248 215.1L248.8 214.4L249.7 213.7L250.5 213.1L251.3 212.4L252.2 211.7L253 211L253.9 210.3L254.7 209.6L255.5 209L256.4 208.3L257.2 207.6L258.1 206.9L258.9 206.3L259.7 205.6L260.6 204.9L261.4 204.3L262.3 203.6L263.1 202.9L263.9 202.3L264.8 201.6L265.6 201L266.5 200.3L267.3 199.7L268.1 199L269 198.3L269.8 197.7L270.7 197L271.5 196.4L272.3 195.7L273.2 195.1L274 194.5L274.9 193.8L275.7 193.2L276.5 192.5L277.4 191.9L278.2 191.3L279.1 190.6L279.9 190L280.7 189.3L281.6 188.7L282.4 188.1L283.3 187.4L284.1 186.8L284.9 186.2L285.8 185.6L286.6 184.9L287.5 184.3L288.3 183.7L289.1 183L290 182.4L290.8 181.8L291.7 181.2L292.5 180.6L293.3 179.9L294.2 179.3L295 178.7L295.9 178.1L296.7 177.5L297.5 176.9L298.4 176.2L299.2 175.6L300.1 175L300.9 174.4L301.7 173.8L302.6 173.2L303.4 172.6L304.3 172L305.1 171.4L305.9 170.7L306.8 170.1L307.6 169.5L308.5 168.9L309.3 168.3L310.1 167.7L311 167.1L311.8 166.5L312.7 165.9L313.5 165.3L314.3 164.7L315.2 164.1L316 163.5L316.9 162.9L317.7 162.3L318.5 161.7L319.4 161.1L320.2 160.5L321.1 159.9L321.9 159.3L322.7 158.7L323.6 158.1L324.4 157.6L325.3 157L326.1 156.4L326.9 155.8L327.8 155.2L328.6 154.6L329.5 154L330.3 153.4L331.1 152.8L332 152.2L332.8 151.6L333.7 151.1L334.5 150.5L335.3 149.9L336.2 149.3L337 148.7L337.9 148.1L338.7 147.5L339.5 146.9L340.4 146.4L341.2 145.8L342.1 145.2L342.9 144.6L343.7 144L344.6 143.4L345.4 142.9L346.3 142.3L347.1 141.7L347.9 141.1L348.8 140.5L349.6 140L350.5 139.4L351.3 138.8L352.1 138.2L353 137.6L353.8 137.1L354.7 136.5L355.5 135.9L356.4 135.3L357.2 134.7L358 134.2L358.9 133.6L359.7 133L360.6 132.4L361.4 131.9L362.2 131.3L363.1 130.7L363.9 130.1L364.8 129.5L365.6 129L366.4 128.4L367.3 127.8L368.1 127.2L369 126.7L369.8 126.1L370.6 125.5L371.5 125L372.3 124.4L373.2 123.8L374 123.2L374.8 122.7L375.7 122.1L376.5 121.5L377.4 120.9L378.2 120.4L379 119.8L379.9 119.2L380.7 118.7L381.6 118.1L382.4 117.5L383.2 116.9L384.1 116.4L384.9 115.8L385.8 115.2L386.6 114.7L387.4 114.1L388.3 113.5L389.1 113L390 112.4L390.8 111.8L391.6 111.3L392.5 110.7L393.3 110.1L394.2 109.5L395 109L395.8 108.4L396.7 107.8L397.5 107.3L398.4 106.7L399.2 106.1L400 105.6L400.9 105L401.7 104.4L402.6 103.9L403.4 103.3L404.2 102.7L405.1 102.2L405.9 101.6L406.8 101L407.6 100.5L408.4 99.9L409.3 99.3L410.1 98.8L411 98.2L411.8 97.7L412.6 97.1L413.5 96.5L414.3 96L415.2 95.4L416 94.8L416.8 94.3L417.7 93.7L418.5 93.1L419.4 92.6L420.2 92L421 91.4L421.9 90.9L422.7 90.3L423.6 89.8L424.4 89.2L425.2 88.6L426.1 88.1L426.9 87.5L427.8 86.9L428.6 86.4L429.4 85.8L430.3 85.3L431.1 84.7L432 84.1L432.8 83.6L433.6 83L434.5 82.4L435.3 81.9L436.2 81.3L437 80.8L437.8 80.2L438.7 79.6L439.5 79.1L440.4 78.5L441.2 77.9L442 77.4L442.9 76.8L443.7 76.3L444.6 75.7L445.4 75.1L446.2 74.6L447.1 74L447.9 73.5L448.8 72.9L449.6 72.3L450.4 71.8L451.3 71.2L452.1 70.7L453 70.1L453.8 69.5L454.6 69L455.5 68.4L456.3 67.9L457.2 67.3L458 66.7L458.8 66.2L459.7 65.6L460.5 65.1L461.4 64.5L462.2 63.9L463 63.4L463.9 62.8L464.7 62.3L465.6 61.7L466.4 61.2"/></g><g fill="#0000ff"><circle cx="141.5" cy="340" r="3.2"/><circle cx="141.7" cy="310.2" r="3.2"/><circle cx="155.4" cy="294.2" r="3.2"/><circle cx="163.6" cy="282.9" r="3.2"/><circle cx="164.4" cy="274.1" r="3.2"/><circle cx="165.6" cy="266.8" r="3.2"/><circle cx="169.4" cy="260.5" r="3.2"/><circle cx="173" cy="254.9" r="3.2"/><circle cx="173.8" cy="249.8" r="3.2"/><circle cx="174" cy="245.1" r="3.2"/><circle cx="176.4" cy="240.6" r="3.2"/><circle cx="192.3" cy="236.5" r="3.2"/><circle cx="194.3" cy="232.5" r="3.2"/><circle cx="196.3" cy="228.7" r="3.2"/><circle cx="201.3" cy="225" r="3.2"/><circle cx="207.3" cy="221.4" r="3.2"/><circle cx="215.3" cy="217.8" r="3.2"/><circle cx="218.3" cy="214.3" r="3.2"/><circle cx="224.3" cy="210.8" r="3.2"/><circle cx="229.3" cy="207.3" r="3.2"/><circle cx="232.2" cy="203.8" r="3.2"/><circle cx="254.2" cy="200.2" r="3.2"/><circle cx="254.2" cy="196.6" r="3.2"/><circle cx="258.2" cy="192.9" r="3.2"/><circle cx="261.2" cy="189.1" r="3.2"/><circle cx="266.2" cy="185.1" r="3.2"/><circle cx="281.1" cy="181" r="3.2"/><circle cx="288.1" cy="176.5" r="3.2"/><circle cx="294.1" cy="171.8" r="3.2"/><circle cx="296.1" cy="166.7" r="3.2"/><circle cx="302.1" cy="161.1" r="3.2"/><circle cx="307.1" cy="154.8" r="3.2"/><circle cx="307.1" cy="148.7" r="3.2"/><circle cx="320" cy="139.9" r="3.2"/><circle cx="330" cy="128.6" r="3.2"/><circle cx="334" cy="112.6" r="3.2"/><circle cx="361.9" cy="82.8" r="3.2"/></g><g class="st"><text x="57.8" y="364.0" text-anchor="end">1</text><text x="57.8" y="341.0" text-anchor="end">2</text><text x="57.8" y="327.5" text-anchor="end">3</text><text x="57.8" y="310.1" text-anchor="end">5</text><text x="57.8" y="285.7" text-anchor="end">10</text><text x="57.8" y="259.3" text-anchor="end">20</text><text x="57.8" y="241.7" text-anchor="end">30</text><text x="57.8" y="227.2" text-anchor="end">40</text><text x="57.8" y="214.0" text-anchor="end">50</text><text x="57.8" y="200.8" text-anchor="end">60</text><text x="57.8" y="186.3" text-anchor="end">70</text><text x="57.8" y="168.7" text-anchor="end">80</text><text x="57.8" y="142.3" text-anchor="end">90</text><text x="57.8" y="117.9" text-anchor="end">95</text><text x="57.8" y="64.0" text-anchor="end">99</text><text x="132.3" y="376" text-anchor="middle">0</text><text x="232.1" y="376" text-anchor="middle">5000</text><text x="331.8" y="376" text-anchor="middle">10000</text><text x="431.6" y="376" text-anchor="middle">15000</text></g></svg><svg class="c" style="left:0px;top:0" width="503" height="865" viewBox="0 0 503 865"><defs><clipPath id="cc0"><rect x="68" y="606" width="420" height="208"/></clipPath></defs><path d="M68 771.5H487M68 730.5H487M68 688.5H487M68 646.5H487" stroke="#dedede" fill="none" shape-rendering="crispEdges"/><g clip-path="url(#cc0)"><path d="M68.4 813.9L69.8 813.3L71.2 812.6L72.6 811.7L74 810.8L75.4 809.8L76.8 808.8L78.2 807.8L79.6 806.8L81 805.7L82.4 804.6L83.8 803.5L85.2 802.3L86.6 801.2L88 800L89.4 798.8L90.8 797.6L92.2 796.4L93.6 795.2L95 794L96.4 792.8L97.8 791.5L99.2 790.3L100.6 789.1L102 787.8L103.4 786.6L104.7 785.3L106.1 784L107.5 782.8L108.9 781.5L110.3 780.2L111.7 779L113.1 777.7L114.5 776.4L115.9 775.1L117.3 773.9L118.7 772.6L120.1 771.3L121.5 770L122.9 768.8L124.3 767.5L125.7 766.2L127.1 764.9L128.5 763.7L129.9 762.4L131.3 761.1L132.7 759.9L134.1 758.6L135.5 757.3L136.9 756.1L138.3 754.8L139.7 753.6L141.1 752.3L142.5 751.1L143.9 749.8L145.3 748.6L146.7 747.3L148.1 746.1L149.5 744.9L150.9 743.6L152.3 742.4L153.7 741.2L155.1 740L156.5 738.8L157.9 737.5L159.3 736.3L160.7 735.1L162.1 733.9L163.5 732.7L164.9 731.5L166.3 730.4L167.7 729.2L169.1 728L170.5 726.8L171.9 725.7L173.2 724.5L174.6 723.3L176 722.2L177.4 721L178.8 719.9L180.2 718.7L181.6 717.6L183 716.5L184.4 715.3L185.8 714.2L187.2 713.1L188.6 712L190 710.9L191.4 709.8L192.8 708.7L194.2 707.6L195.6 706.5L197 705.4L198.4 704.3L199.8 703.3L201.2 702.2L202.6 701.1L204 700.1L205.4 699L206.8 698L208.2 696.9L209.6 695.9L211 694.9L212.4 693.9L213.8 692.8L215.2 691.8L216.6 690.8L218 689.8L219.4 688.8L220.8 687.8L222.2 686.8L223.6 685.9L225 684.9L226.4 683.9L227.8 683L229.2 682L230.6 681L232 680.1L233.4 679.2L234.8 678.2L236.2 677.3L237.6 676.4L239 675.5L240.4 674.6L241.8 673.6L243.2 672.7L244.5 671.9L245.9 671L247.3 670.1L248.7 669.2L250.1 668.4L251.5 667.5L252.9 666.6L254.3 665.8L255.7 664.9L257.1 664.1L258.5 663.3L259.9 662.5L261.3 661.6L262.7 660.8L264.1 660L265.5 659.2L266.9 658.4L268.3 657.6L269.7 656.9L271.1 656.1L272.5 655.3L273.9 654.6L275.3 653.8L276.7 653.1L278.1 652.3L279.5 651.6L280.9 650.9L282.3 650.1L283.7 649.4L285.1 648.7L286.5 648L287.9 647.3L289.3 646.7L290.7 646L292.1 645.3L293.5 644.6L294.9 644L296.3 643.3L297.7 642.7L299.1 642L300.5 641.4L301.9 640.8L303.3 640.2L304.7 639.6L306.1 639L307.5 638.4L308.9 637.8L310.3 637.2L311.7 636.6L313.1 636.1L314.4 635.5L315.8 634.9L317.2 634.4L318.6 633.9L320 633.3L321.4 632.8L322.8 632.3L324.2 631.8L325.6 631.3L327 630.8L328.4 630.3L329.8 629.8L331.2 629.3L332.6 628.8L334 628.4L335.4 627.9L336.8 627.4L338.2 627L339.6 626.6L341 626.1L342.4 625.7L343.8 625.3L345.2 624.9L346.6 624.5L348 624.1L349.4 623.7L350.8 623.3L352.2 622.9L353.6 622.5L355 622.1L356.4 621.8L357.8 621.4L359.2 621.1L360.6 620.7L362 620.4L363.4 620L364.8 619.7L366.2 619.4L367.6 619.1L369 618.8L370.4 618.5L371.8 618.2L373.2 617.9L374.6 617.6L376 617.3L377.4 617L378.8 616.7L380.2 616.5L381.6 616.2L383 615.9L384.3 615.7L385.7 615.4L387.1 615.2L388.5 615L389.9 614.7L391.3 614.5L392.7 614.3L394.1 614L395.5 613.8L396.9 613.6L398.3 613.4L399.7 613.2L401.1 613L402.5 612.8L403.9 612.6L405.3 612.4L406.7 612.2L408.1 612.1L409.5 611.9L410.9 611.7L412.3 611.6L413.7 611.4L415.1 611.2L416.5 611.1L417.9 610.9L419.3 610.8L420.7 610.6L422.1 610.5L423.5 610.3L424.9 610.2L426.3 610.1L427.7 609.9L429.1 609.8L430.5 609.7L431.9 609.6L433.3 609.5L434.7 609.3L436.1 609.2L437.5 609.1L438.9 609L440.3 608.9L441.7 608.8L443.1 608.7L444.5 608.6L445.9 608.5L447.3 608.4L448.7 608.3L450.1 608.2L451.5 608.2L452.9 608.1L454.2 608L455.6 607.9L457 607.8L458.4 607.8L459.8 607.7L461.2 607.6L462.6 607.6L464 607.5L465.4 607.4L466.8 607.4L468.2 607.3L469.6 607.2L471 607.2L472.4 607.1L473.8 607.1L475.2 607L476.6 607L478 606.9L479.4 606.9L480.8 606.8L482.2 606.8L483.6 606.7L485 606.7L486.4 606.6L487.8 606.6L487.8 625.8L486.4 626L485 626.2L483.6 626.5L482.2 626.7L480.8 626.9L479.4 627.1L478 627.4L476.6 627.6L475.2 627.8L473.8 628L472.4 628.3L471 628.5L469.6 628.8L468.2 629L466.8 629.2L465.4 629.5L464 629.7L462.6 630L461.2 630.3L459.8 630.5L458.4 630.8L457 631L455.6 631.3L454.2 631.6L452.9 631.8L451.5 632.1L450.1 632.4L448.7 632.7L447.3 633L445.9 633.2L444.5 633.5L443.1 633.8L441.7 634.1L440.3 634.4L438.9 634.7L437.5 635L436.1 635.3L434.7 635.6L433.3 635.9L431.9 636.2L430.5 636.6L429.1 636.9L427.7 637.2L426.3 637.5L424.9 637.9L423.5 638.2L422.1 638.5L420.7 638.9L419.3 639.2L417.9 639.6L416.5 639.9L415.1 640.3L413.7 640.6L412.3 641L410.9 641.4L409.5 641.7L408.1 642.1L406.7 642.5L405.3 642.8L403.9 643.2L402.5 643.6L401.1 644L399.7 644.4L398.3 644.8L396.9 645.2L395.5 645.6L394.1 646L392.7 646.4L391.3 646.8L389.9 647.3L388.5 647.7L387.1 648.1L385.7 648.6L384.3 649L383 649.4L381.6 649.9L380.2 650.3L378.8 650.8L377.4 651.3L376 651.7L374.6 652.2L373.2 652.7L371.8 653.1L370.4 653.6L369 654.1L367.6 654.6L366.2 655.1L364.8 655.6L363.4 656.1L362 656.6L360.6 657.1L359.2 657.7L357.8 658.2L356.4 658.7L355 659.3L353.6 659.8L352.2 660.3L350.8 660.9L349.4 661.5L348 662L346.6 662.6L345.2 663.2L343.8 663.7L342.4 664.3L341 664.9L339.6 665.5L338.2 666.1L336.8 666.7L335.4 667.3L334 667.9L332.6 668.6L331.2 669.2L329.8 669.8L328.4 670.5L327 671.1L325.6 671.8L324.2 672.4L322.8 673.1L321.4 673.8L320 674.4L318.6 675.1L317.2 675.8L315.8 676.5L314.4 677.2L313.1 677.9L311.7 678.6L310.3 679.4L308.9 680.1L307.5 680.8L306.1 681.6L304.7 682.3L303.3 683.1L301.9 683.8L300.5 684.6L299.1 685.3L297.7 686.1L296.3 686.9L294.9 687.7L293.5 688.5L292.1 689.3L290.7 690.1L289.3 690.9L287.9 691.7L286.5 692.6L285.1 693.4L283.7 694.2L282.3 695.1L280.9 695.9L279.5 696.8L278.1 697.7L276.7 698.5L275.3 699.4L273.9 700.3L272.5 701.2L271.1 702.1L269.7 703L268.3 703.9L266.9 704.8L265.5 705.7L264.1 705.6L262.7 706.5L261.3 707.4L259.9 708.4L258.5 709.3L257.1 710.3L255.7 711.2L254.3 712.2L252.9 713.2L251.5 714.2L250.1 715.1L248.7 716.1L247.3 717.1L245.9 718.1L244.5 719.1L243.2 720.1L241.8 721.1L240.4 722.1L239 723.1L237.6 724.2L236.2 725.2L234.8 726.2L233.4 727.3L232 728.3L230.6 729.3L229.2 730.4L227.8 731.4L226.4 732.5L225 733.5L223.6 734.6L222.2 735.6L220.8 736.7L219.4 737.7L218 738.8L216.6 739.9L215.2 740.9L213.8 742L212.4 743.1L211 744.1L209.6 745.2L208.2 746.3L206.8 747.3L205.4 748.4L204 749.5L202.6 750.5L201.2 751.6L199.8 752.6L198.4 753.7L197 754.8L195.6 755.8L194.2 756.9L192.8 757.9L191.4 759L190 760L188.6 761.1L187.2 762.1L185.8 763.2L184.4 764.2L183 765.2L181.6 766.2L180.2 767.3L178.8 768.3L177.4 769.3L176 770.3L174.6 771.3L173.2 772.3L171.9 773.3L170.5 774.3L169.1 775.2L167.7 776.2L166.3 777.2L164.9 778.1L163.5 779L162.1 780L160.7 780.9L159.3 781.8L157.9 782.7L156.5 783.6L155.1 784.5L153.7 785.4L152.3 786.3L150.9 787.2L149.5 788L148.1 788.9L146.7 789.7L145.3 790.5L143.9 791.3L142.5 792.1L141.1 792.9L139.7 793.7L138.3 794.4L136.9 795.2L135.5 795.9L134.1 796.7L132.7 797.4L131.3 798.1L129.9 798.8L128.5 799.4L127.1 800.1L125.7 800.7L124.3 801.4L122.9 802L121.5 802.6L120.1 803.2L118.7 803.8L117.3 804.3L115.9 804.9L114.5 805.4L113.1 805.9L111.7 806.4L110.3 806.9L108.9 807.4L107.5 807.8L106.1 808.2L104.7 808.7L103.4 809.1L102 809.5L100.6 809.8L99.2 810.2L97.8 810.5L96.4 810.8L95 811.2L93.6 811.4L92.2 811.7L90.8 812L89.4 812.2L88 812.4L86.6 812.6L85.2 812.8L83.8 813L82.4 813.2L81 813.3L79.6 813.4L78.2 813.6L76.8 813.7L75.4 813.7L74 813.8L72.6 813.8L71.2 813.9L69.8 813.9L68.4 813.9Z" fill="#5b8fd6" fill-opacity="0.23" stroke="#8fa9d0" stroke-opacity="0.75" stroke-width="1"/><path d="M68.4 813.9L69.8 813.8L71.2 813.7L72.6 813.5L74 813.3L75.4 813.1L76.8 812.8L78.2 812.4L79.6 812.1L81 811.7L82.4 811.3L83.8 810.8L85.2 810.4L86.6 809.9L88 809.4L89.4 808.8L90.8 808.3L92.2 807.7L93.6 807.1L95 806.4L96.4 805.8L97.8 805.1L99.2 804.4L100.6 803.7L102 803L103.4 802.3L104.7 801.5L106.1 800.7L107.5 799.9L108.9 799.1L110.3 798.3L111.7 797.5L113.1 796.6L114.5 795.8L115.9 794.9L117.3 794L118.7 793.1L120.1 792.2L121.5 791.3L122.9 790.4L124.3 789.4L125.7 788.5L127.1 787.5L128.5 786.5L129.9 785.5L131.3 784.5L132.7 783.5L134.1 782.5L135.5 781.5L136.9 780.5L138.3 779.4L139.7 778.4L141.1 777.3L142.5 776.3L143.9 775.2L145.3 774.2L146.7 773.1L148.1 772L149.5 770.9L150.9 769.8L152.3 768.7L153.7 767.6L155.1 766.5L156.5 765.4L157.9 764.3L159.3 763.2L160.7 762.1L162.1 760.9L163.5 759.8L164.9 758.7L166.3 757.6L167.7 756.4L169.1 755.3L170.5 754.1L171.9 753L173.2 751.9L174.6 750.7L176 749.6L177.4 748.4L178.8 747.3L180.2 746.2L181.6 745L183 743.9L184.4 742.7L185.8 741.6L187.2 740.4L188.6 739.3L190 738.2L191.4 737L192.8 735.9L194.2 734.8L195.6 733.6L197 732.5L198.4 731.4L199.8 730.2L201.2 729.1L202.6 728L204 726.9L205.4 725.7L206.8 724.6L208.2 723.5L209.6 722.4L211 721.3L212.4 720.2L213.8 719.1L215.2 718L216.6 716.9L218 715.8L219.4 714.8L220.8 713.7L222.2 712.6L223.6 711.5L225 710.5L226.4 709.4L227.8 708.4L229.2 707.3L230.6 706.3L232 705.2L233.4 704.2L234.8 703.1L236.2 702.1L237.6 701.1L239 700.1L240.4 699.1L241.8 698.1L243.2 697.1L244.5 696.1L245.9 695.1L247.3 694.1L248.7 693.1L250.1 692.2L251.5 691.2L252.9 690.2L254.3 689.3L255.7 688.3L257.1 687.4L258.5 686.5L259.9 685.5L261.3 684.6L262.7 683.7L264.1 682.8L265.5 681.9L266.9 681L268.3 680.1L269.7 679.2L271.1 678.3L272.5 677.5L273.9 676.6L275.3 675.8L276.7 674.9L278.1 674.1L279.5 673.2L280.9 672.4L282.3 671.6L283.7 670.7L285.1 669.9L286.5 669.1L287.9 668.3L289.3 667.5L290.7 666.8L292.1 666L293.5 665.2L294.9 664.5L296.3 663.7L297.7 662.9L299.1 662.2L300.5 661.5L301.9 660.7L303.3 660L304.7 659.3L306.1 658.6L307.5 657.9L308.9 657.2L310.3 656.5L311.7 655.8L313.1 655.1L314.4 654.5L315.8 653.8L317.2 653.1L318.6 652.5L320 651.8L321.4 651.2L322.8 650.6L324.2 650L325.6 649.3L327 648.7L328.4 648.1L329.8 647.5L331.2 646.9L332.6 646.3L334 645.8L335.4 645.2L336.8 644.6L338.2 644.1L339.6 643.5L341 643L342.4 642.4L343.8 641.9L345.2 641.3L346.6 640.8L348 640.3L349.4 639.8L350.8 639.3L352.2 638.8L353.6 638.3L355 637.8L356.4 637.3L357.8 636.8L359.2 636.4L360.6 635.9L362 635.4L363.4 635L364.8 634.5L366.2 634.1L367.6 633.6L369 633.2L370.4 632.8L371.8 632.4L373.2 631.9L374.6 631.5L376 631.1L377.4 630.7L378.8 630.3L380.2 629.9L381.6 629.6L383 629.2L384.3 628.8L385.7 628.4L387.1 628.1L388.5 627.7L389.9 627.3L391.3 627L392.7 626.6L394.1 626.3L395.5 626L396.9 625.6L398.3 625.3L399.7 625L401.1 624.6L402.5 624.3L403.9 624L405.3 623.7L406.7 623.4L408.1 623.1L409.5 622.8L410.9 622.5L412.3 622.2L413.7 621.9L415.1 621.7L416.5 621.4L417.9 621.1L419.3 620.9L420.7 620.6L422.1 620.3L423.5 620.1L424.9 619.8L426.3 619.6L427.7 619.3L429.1 619.1L430.5 618.9L431.9 618.6L433.3 618.4L434.7 618.2L436.1 617.9L437.5 617.7L438.9 617.5L440.3 617.3L441.7 617.1L443.1 616.9L444.5 616.7L445.9 616.5L447.3 616.3L448.7 616.1L450.1 615.9L451.5 615.7L452.9 615.5L454.2 615.3L455.6 615.2L457 615L458.4 614.8L459.8 614.6L461.2 614.5L462.6 614.3L464 614.1L465.4 614L466.8 613.8L468.2 613.7L469.6 613.5L471 613.4L472.4 613.2L473.8 613.1L475.2 612.9L476.6 612.8L478 612.6L479.4 612.5L480.8 612.4L482.2 612.2L483.6 612.1L485 612L486.4 611.9L487.8 611.7" fill="none" stroke="#5590dc" stroke-width="2.2"/></g><path d="M63 813.5H68M66 799.5H68M66 785.5H68M63 771.5H68M66 758.5H68M66 744.5H68M63 730.5H68M66 716.5H68M66 702.5H68M63 688.5H68M66 674.5H68M66 660.5H68M63 646.5H68M66 632.5H68M66 619.5H68M68.5 813V819M82.5 813V816M96.5 813V816M110.5 813V816M124.5 813V816M138.5 813V819M152.5 813V816M166.5 813V816M180.5 813V816M194.5 813V816M208.5 813V819M222.5 813V816M236.5 813V816M250.5 813V816M264.5 813V816M278.5 813V819M292.5 813V816M306.5 813V816M320.5 813V816M334.5 813V816M348.5 813V819M361.5 813V816M375.5 813V816M389.5 813V816M403.5 813V816M417.5 813V819M431.5 813V816M445.5 813V816M459.5 813V816M473.5 813V816M487.5 813V819" stroke="#9a9a9a" fill="none" shape-rendering="crispEdges"/><rect x="68.5" y="606.5" width="419" height="207" fill="none" stroke="#9a9a9a" shape-rendering="crispEdges"/><g class="tt"><text x="57.2" y="817.2" text-anchor="end">0</text><text x="57.2" y="775.5" text-anchor="end">0.2</text><text x="57.2" y="733.8" text-anchor="end">0.4</text><text x="57.2" y="692.1" text-anchor="end">0.6</text><text x="57.2" y="650.4" text-anchor="end">0.8</text><text x="68.4" y="833" text-anchor="middle">0</text><text x="138.3" y="833" text-anchor="middle">2000</text><text x="208.2" y="833" text-anchor="middle">4000</text><text x="278.1" y="833" text-anchor="middle">6000</text><text x="348.0" y="833" text-anchor="middle">8000</text><text x="417.9" y="833" text-anchor="middle">10000</text><text x="490" y="833" text-anchor="end">12000</text></g><text class="an" x="251.6" y="687">(5000, 0.560329)</text></svg><svg class="c" style="left:506px;top:0" width="503" height="865" viewBox="0 0 503 865"><defs><clipPath id="cc506"><rect x="68" y="606" width="420" height="208"/></clipPath></defs><path d="M68 771.5H487M68 730.5H487M68 688.5H487M68 646.5H487" stroke="#dedede" fill="none" shape-rendering="crispEdges"/><g clip-path="url(#cc506)"><path d="M68.4 783.6L69.8 783.2L71.2 782.7L72.6 782.3L74 781.8L75.4 781.3L76.8 780.8L78.2 780.3L79.6 779.8L81 779.3L82.4 778.8L83.8 778.3L85.2 777.8L86.6 777.3L88 776.7L89.4 776.2L90.8 775.6L92.2 775.1L93.6 774.5L95 774L96.4 773.4L97.8 772.8L99.2 772.2L100.6 771.6L102 771L103.4 770.4L104.7 769.8L106.1 769.2L107.5 768.5L108.9 767.9L110.3 767.2L111.7 766.6L113.1 765.9L114.5 765.2L115.9 764.6L117.3 763.9L118.7 763.2L120.1 762.5L121.5 761.8L122.9 761.1L124.3 760.4L125.7 759.6L127.1 758.9L128.5 758.1L129.9 757.4L131.3 756.6L132.7 755.9L134.1 755.1L135.5 754.3L136.9 753.5L138.3 752.7L139.7 751.9L141.1 751.1L142.5 750.3L143.9 749.5L145.3 748.6L146.7 747.8L148.1 746.9L149.5 746.1L150.9 745.2L152.3 744.3L153.7 743.5L155.1 742.6L156.5 741.7L157.9 740.8L159.3 739.9L160.7 739L162.1 738L163.5 737.1L164.9 736.2L166.3 735.2L167.7 734.3L169.1 733.3L170.5 732.4L171.9 731.4L173.2 730.4L174.6 729.5L176 728.5L177.4 727.5L178.8 726.5L180.2 725.5L181.6 724.5L183 723.5L184.4 722.5L185.8 721.4L187.2 720.4L188.6 719.4L190 718.3L191.4 717.3L192.8 716.3L194.2 715.2L195.6 714.2L197 713.1L198.4 712.1L199.8 711L201.2 709.9L202.6 708.9L204 707.8L205.4 706.7L206.8 705.6L208.2 704.6L209.6 703.5L211 702.4L212.4 701.3L213.8 700.3L215.2 699.2L216.6 698.1L218 697L219.4 695.9L220.8 694.9L222.2 693.8L223.6 692.7L225 691.6L226.4 690.5L227.8 689.5L229.2 688.4L230.6 687.3L232 686.2L233.4 685.2L234.8 684.1L236.2 683L237.6 682L239 680.9L240.4 679.9L241.8 678.8L243.2 677.8L244.5 676.7L245.9 675.7L247.3 674.7L248.7 673.7L250.1 672.6L251.5 671.6L252.9 670.6L254.3 669.6L255.7 668.6L257.1 667.6L258.5 666.6L259.9 665.7L261.3 664.7L262.7 663.7L264.1 662.8L265.5 661.8L266.9 660.9L268.3 660L269.7 659L271.1 658.1L272.5 657.2L273.9 656.3L275.3 655.4L276.7 654.6L278.1 653.7L279.5 652.8L280.9 652L282.3 651.1L283.7 650.3L285.1 649.5L286.5 648.7L287.9 647.9L289.3 647.1L290.7 646.3L292.1 645.5L293.5 644.7L294.9 644L296.3 643.2L297.7 642.5L299.1 641.8L300.5 641.1L301.9 640.4L303.3 639.7L304.7 639L306.1 638.3L307.5 637.6L308.9 637L310.3 636.3L311.7 635.7L313.1 635.1L314.4 634.5L315.8 633.9L317.2 633.3L318.6 632.7L320 632.1L321.4 631.5L322.8 631L324.2 630.4L325.6 629.9L327 629.4L328.4 628.8L329.8 628.3L331.2 627.8L332.6 627.3L334 626.9L335.4 626.4L336.8 625.9L338.2 625.5L339.6 625L341 624.6L342.4 624.1L343.8 623.7L345.2 623.3L346.6 622.9L348 622.5L349.4 622.1L350.8 621.7L352.2 621.3L353.6 621L355 620.6L356.4 620.3L357.8 619.9L359.2 619.6L360.6 619.2L362 618.9L363.4 618.6L364.8 618.3L366.2 618L367.6 617.7L369 617.4L370.4 617.1L371.8 616.8L373.2 616.6L374.6 616.3L376 616L377.4 615.8L378.8 615.5L380.2 615.3L381.6 615L383 614.8L384.3 614.6L385.7 614.4L387.1 614.1L388.5 613.9L389.9 613.7L391.3 613.5L392.7 613.3L394.1 613.1L395.5 612.9L396.9 612.8L398.3 612.6L399.7 612.4L401.1 612.2L402.5 612.1L403.9 611.9L405.3 611.7L406.7 611.6L408.1 611.4L409.5 611.3L410.9 611.1L412.3 611L413.7 610.8L415.1 610.7L416.5 610.6L417.9 610.4L419.3 610.3L420.7 610.2L422.1 610.1L423.5 609.9L424.9 609.8L426.3 609.7L427.7 609.6L429.1 609.5L430.5 609.4L431.9 609.3L433.3 609.2L434.7 609.1L436.1 609L437.5 608.9L438.9 608.8L440.3 608.7L441.7 608.7L443.1 608.6L444.5 608.5L445.9 608.4L447.3 608.3L448.7 608.3L450.1 608.2L451.5 608.1L452.9 608L454.2 608L455.6 607.9L457 607.8L458.4 607.8L459.8 607.7L461.2 607.7L462.6 607.6L464 607.5L465.4 607.5L466.8 607.4L468.2 607.4L469.6 607.3L471 607.3L472.4 607.2L473.8 607.2L475.2 607.1L476.6 607.1L478 607.1L479.4 607L480.8 607L482.2 606.9L483.6 606.9L485 606.8L486.4 606.8L487.8 606.8L487.8 619.3L486.4 619.5L485 619.8L483.6 620L482.2 620.2L480.8 620.4L479.4 620.7L478 620.9L476.6 621.2L475.2 621.4L473.8 621.7L472.4 621.9L471 622.2L469.6 622.4L468.2 622.7L466.8 623L465.4 623.2L464 623.5L462.6 623.8L461.2 624.1L459.8 624.4L458.4 624.6L457 624.9L455.6 625.2L454.2 625.5L452.9 625.9L451.5 626.2L450.1 626.5L448.7 626.8L447.3 627.1L445.9 627.5L444.5 627.8L443.1 628.1L441.7 628.5L440.3 628.8L438.9 629.2L437.5 629.6L436.1 629.9L434.7 630.3L433.3 630.7L431.9 631L430.5 631.4L429.1 631.8L427.7 632.2L426.3 632.6L424.9 633L423.5 633.4L422.1 633.9L420.7 634.3L419.3 634.7L417.9 635.1L416.5 635.6L415.1 636L413.7 636.5L412.3 636.9L410.9 637.4L409.5 637.9L408.1 638.3L406.7 638.8L405.3 639.3L403.9 639.8L402.5 640.3L401.1 640.8L399.7 641.3L398.3 641.8L396.9 642.4L395.5 642.9L394.1 643.4L392.7 644L391.3 644.5L389.9 645.1L388.5 645.7L387.1 646.2L385.7 646.8L384.3 647.4L383 648L381.6 648.6L380.2 649.2L378.8 649.8L377.4 650.4L376 651L374.6 651.7L373.2 652.3L371.8 652.9L370.4 653.6L369 654.3L367.6 654.9L366.2 655.6L364.8 656.3L363.4 657L362 657.7L360.6 658.4L359.2 659.1L357.8 659.8L356.4 660.5L355 661.2L353.6 662L352.2 662.7L350.8 663.5L349.4 664.2L348 665L346.6 665.8L345.2 666.5L343.8 667.3L342.4 668.1L341 668.9L339.6 669.7L338.2 670.5L336.8 671.4L335.4 672.2L334 673L332.6 673.9L331.2 674.7L329.8 675.6L328.4 676.4L327 677.3L325.6 678.2L324.2 679.1L322.8 679.9L321.4 680.8L320 681.7L318.6 682.6L317.2 683.6L315.8 684.5L314.4 685.4L313.1 686.3L311.7 687.3L310.3 688.2L308.9 689.2L307.5 690.1L306.1 691.1L304.7 692L303.3 693L301.9 694L300.5 694.9L299.1 695.9L297.7 696.9L296.3 697.9L294.9 698.9L293.5 699.9L292.1 700.9L290.7 701.9L289.3 702.9L287.9 703.9L286.5 705L285.1 706L283.7 707L282.3 708L280.9 709.1L279.5 710.1L278.1 711.1L276.7 712.2L275.3 713.2L273.9 714.2L272.5 715.3L271.1 716.3L269.7 717.4L268.3 718.4L266.9 719.5L265.5 720.5L264.1 721.6L262.7 722.6L261.3 723.7L259.9 724.7L258.5 725.8L257.1 726.8L255.7 727.9L254.3 728.9L252.9 729.9L251.5 731L250.1 732L248.7 733.1L247.3 734.1L245.9 735.1L244.5 736.2L243.2 737.2L241.8 738.2L240.4 739.2L239 740.3L237.6 741.3L236.2 742.3L234.8 743.3L233.4 744.3L232 745.3L230.6 746.3L229.2 747.3L227.8 748.2L226.4 749.2L225 750.2L223.6 751.2L222.2 752.1L220.8 753.1L219.4 754L218 755L216.6 755.9L215.2 756.8L213.8 757.7L212.4 758.6L211 759.6L209.6 760.4L208.2 761.3L206.8 762.2L205.4 763.1L204 764L202.6 764.8L201.2 765.7L199.8 766.5L198.4 767.3L197 768.2L195.6 769L194.2 769.8L192.8 770.6L191.4 771.4L190 772.1L188.6 772.9L187.2 773.7L185.8 774.4L184.4 775.2L183 775.9L181.6 776.6L180.2 777.3L178.8 778L177.4 778.7L176 779.4L174.6 780.1L173.2 780.8L171.9 781.4L170.5 782.1L169.1 782.7L167.7 783.3L166.3 783.9L164.9 784.6L163.5 785.2L162.1 785.7L160.7 786.3L159.3 786.9L157.9 787.5L156.5 788L155.1 788.6L153.7 789.1L152.3 789.6L150.9 790.1L149.5 790.7L148.1 791.2L146.7 791.6L145.3 792.1L143.9 792.6L142.5 793.1L141.1 793.5L139.7 794L138.3 794.4L136.9 794.8L135.5 795.3L134.1 795.7L132.7 796.1L131.3 796.5L129.9 796.9L128.5 797.3L127.1 797.6L125.7 798L124.3 798.4L122.9 798.7L121.5 799.1L120.1 799.4L118.7 799.8L117.3 800.1L115.9 800.4L114.5 800.7L113.1 801L111.7 801.3L110.3 801.6L108.9 801.9L107.5 802.2L106.1 802.5L104.7 802.7L103.4 803L102 803.3L100.6 803.5L99.2 803.8L97.8 804L96.4 804.2L95 804.5L93.6 804.7L92.2 804.9L90.8 805.1L89.4 805.4L88 805.6L86.6 805.8L85.2 806L83.8 806.2L82.4 806.3L81 806.5L79.6 806.7L78.2 806.9L76.8 807.1L75.4 807.2L74 807.4L72.6 807.6L71.2 807.7L69.8 807.9L68.4 808Z" fill="#5b8fd6" fill-opacity="0.23" stroke="#8fa9d0" stroke-opacity="0.75" stroke-width="1"/><path d="M68.4 800.2L69.8 799.9L71.2 799.7L72.6 799.4L74 799.1L75.4 798.8L76.8 798.5L78.2 798.1L79.6 797.8L81 797.5L82.4 797.2L83.8 796.8L85.2 796.5L86.6 796.2L88 795.8L89.4 795.4L90.8 795.1L92.2 794.7L93.6 794.3L95 793.9L96.4 793.5L97.8 793.1L99.2 792.7L100.6 792.3L102 791.9L103.4 791.5L104.7 791L106.1 790.6L107.5 790.1L108.9 789.7L110.3 789.2L111.7 788.7L113.1 788.3L114.5 787.8L115.9 787.3L117.3 786.8L118.7 786.2L120.1 785.7L121.5 785.2L122.9 784.7L124.3 784.1L125.7 783.5L127.1 783L128.5 782.4L129.9 781.8L131.3 781.2L132.7 780.6L134.1 780L135.5 779.4L136.9 778.8L138.3 778.2L139.7 777.5L141.1 776.9L142.5 776.2L143.9 775.5L145.3 774.8L146.7 774.1L148.1 773.4L149.5 772.7L150.9 772L152.3 771.3L153.7 770.6L155.1 769.8L156.5 769.1L157.9 768.3L159.3 767.5L160.7 766.7L162.1 765.9L163.5 765.1L164.9 764.3L166.3 763.5L167.7 762.7L169.1 761.8L170.5 761L171.9 760.1L173.2 759.3L174.6 758.4L176 757.5L177.4 756.6L178.8 755.7L180.2 754.8L181.6 753.9L183 752.9L184.4 752L185.8 751.1L187.2 750.1L188.6 749.1L190 748.2L191.4 747.2L192.8 746.2L194.2 745.2L195.6 744.2L197 743.2L198.4 742.2L199.8 741.2L201.2 740.2L202.6 739.1L204 738.1L205.4 737L206.8 736L208.2 734.9L209.6 733.9L211 732.8L212.4 731.7L213.8 730.7L215.2 729.6L216.6 728.5L218 727.4L219.4 726.3L220.8 725.2L222.2 724.1L223.6 723L225 721.9L226.4 720.8L227.8 719.7L229.2 718.5L230.6 717.4L232 716.3L233.4 715.2L234.8 714L236.2 712.9L237.6 711.8L239 710.7L240.4 709.5L241.8 708.4L243.2 707.3L244.5 706.2L245.9 705L247.3 703.9L248.7 702.8L250.1 701.7L251.5 700.6L252.9 699.4L254.3 698.3L255.7 697.2L257.1 696.1L258.5 695L259.9 693.9L261.3 692.8L262.7 691.7L264.1 690.6L265.5 689.5L266.9 688.4L268.3 687.4L269.7 686.3L271.1 685.2L272.5 684.2L273.9 683.1L275.3 682.1L276.7 681L278.1 680L279.5 678.9L280.9 677.9L282.3 676.9L283.7 675.9L285.1 674.9L286.5 673.9L287.9 672.9L289.3 671.9L290.7 670.9L292.1 670L293.5 669L294.9 668.1L296.3 667.1L297.7 666.2L299.1 665.3L300.5 664.3L301.9 663.4L303.3 662.5L304.7 661.6L306.1 660.8L307.5 659.9L308.9 659L310.3 658.2L311.7 657.3L313.1 656.5L314.4 655.6L315.8 654.8L317.2 654L318.6 653.2L320 652.4L321.4 651.6L322.8 650.9L324.2 650.1L325.6 649.4L327 648.6L328.4 647.9L329.8 647.1L331.2 646.4L332.6 645.7L334 645L335.4 644.3L336.8 643.7L338.2 643L339.6 642.3L341 641.7L342.4 641L343.8 640.4L345.2 639.8L346.6 639.2L348 638.6L349.4 638L350.8 637.4L352.2 636.8L353.6 636.2L355 635.6L356.4 635.1L357.8 634.5L359.2 634L360.6 633.5L362 633L363.4 632.4L364.8 631.9L366.2 631.4L367.6 631L369 630.5L370.4 630L371.8 629.5L373.2 629.1L374.6 628.6L376 628.2L377.4 627.8L378.8 627.3L380.2 626.9L381.6 626.5L383 626.1L384.3 625.7L385.7 625.3L387.1 624.9L388.5 624.5L389.9 624.2L391.3 623.8L392.7 623.4L394.1 623.1L395.5 622.7L396.9 622.4L398.3 622.1L399.7 621.7L401.1 621.4L402.5 621.1L403.9 620.8L405.3 620.5L406.7 620.2L408.1 619.9L409.5 619.6L410.9 619.3L412.3 619L413.7 618.8L415.1 618.5L416.5 618.2L417.9 618L419.3 617.7L420.7 617.5L422.1 617.2L423.5 617L424.9 616.8L426.3 616.5L427.7 616.3L429.1 616.1L430.5 615.9L431.9 615.7L433.3 615.4L434.7 615.2L436.1 615L437.5 614.8L438.9 614.6L440.3 614.5L441.7 614.3L443.1 614.1L444.5 613.9L445.9 613.7L447.3 613.6L448.7 613.4L450.1 613.2L451.5 613.1L452.9 612.9L454.2 612.8L455.6 612.6L457 612.5L458.4 612.3L459.8 612.2L461.2 612L462.6 611.9L464 611.8L465.4 611.6L466.8 611.5L468.2 611.4L469.6 611.2L471 611.1L472.4 611L473.8 610.9L475.2 610.8L476.6 610.7L478 610.6L479.4 610.4L480.8 610.3L482.2 610.2L483.6 610.1L485 610L486.4 609.9L487.8 609.8" fill="none" stroke="#5590dc" stroke-width="2.2"/></g><path d="M63 813.5H68M66 799.5H68M66 785.5H68M63 771.5H68M66 758.5H68M66 744.5H68M63 730.5H68M66 716.5H68M66 702.5H68M63 688.5H68M66 674.5H68M66 660.5H68M63 646.5H68M66 632.5H68M66 619.5H68M68.5 813V819M82.5 813V816M96.5 813V816M110.5 813V816M124.5 813V816M138.5 813V819M152.5 813V816M166.5 813V816M180.5 813V816M194.5 813V816M208.5 813V819M222.5 813V816M236.5 813V816M250.5 813V816M264.5 813V816M278.5 813V819M292.5 813V816M306.5 813V816M320.5 813V816M334.5 813V816M348.5 813V819M361.5 813V816M375.5 813V816M389.5 813V816M403.5 813V816M417.5 813V819M431.5 813V816M445.5 813V816M459.5 813V816M473.5 813V816M487.5 813V819" stroke="#9a9a9a" fill="none" shape-rendering="crispEdges"/><rect x="68.5" y="606.5" width="419" height="207" fill="none" stroke="#9a9a9a" shape-rendering="crispEdges"/><g class="tt"><text x="57.2" y="817.2" text-anchor="end">0</text><text x="57.2" y="775.5" text-anchor="end">0.2</text><text x="57.2" y="733.8" text-anchor="end">0.4</text><text x="57.2" y="692.1" text-anchor="end">0.6</text><text x="57.2" y="650.4" text-anchor="end">0.8</text><text x="68.4" y="833" text-anchor="middle">0</text><text x="138.3" y="833" text-anchor="middle">2000</text><text x="208.2" y="833" text-anchor="middle">4000</text><text x="278.1" y="833" text-anchor="middle">6000</text><text x="348.0" y="833" text-anchor="middle">8000</text><text x="417.9" y="833" text-anchor="middle">10000</text><text x="490" y="833" text-anchor="end">12000</text></g><circle cx="278.1" cy="680.0" r="4.6" fill="#e00000"/><text class="an" x="286.4" y="670">(6000, 0.642304)</text></svg><svg class="g" style="left:200.40px;top:375.90px" width="128" height="23" role="img" aria-label="运行时间（小时）" ><title>运行时间（小时）</title><text class="sf" x="4" y="16.5" font-size="15" fill="#111">运行时间（小时）</text></svg><svg class="g" style="left:22.50px;top:172.35px" width="23" height="77" role="img" aria-label="概率（%）" ><title>概率（%）</title><text class="sf" transform="translate(16.50,72.25) rotate(-90)" font-size="15" fill="#111">概率（%）</text></svg><svg class="g" style="left:214.20px;top:836.70px" width="128" height="23" role="img" aria-label="运行时间（小时）" ><title>运行时间（小时）</title><text x="4" y="16.5" font-size="15" fill="#1e2440">运行时间（小时）</text></svg><svg class="g" style="left:15.20px;top:691.00px" width="23" height="38" role="img" aria-label="概率" ><title>概率</title><text transform="translate(16.50,34.00) rotate(-90)" font-size="15" fill="#1e2440">概率</text></svg><svg class="g" style="left:706.40px;top:375.90px" width="128" height="23" role="img" aria-label="运行时间（小时）" ><title>运行时间（小时）</title><text class="sf" x="4" y="16.5" font-size="15" fill="#111">运行时间（小时）</text></svg><svg class="g" style="left:528.50px;top:172.35px" width="23" height="77" role="img" aria-label="概率（%）" ><title>概率（%）</title><text class="sf" transform="translate(16.50,72.25) rotate(-90)" font-size="15" fill="#111">概率（%）</text></svg><svg class="g" style="left:720.20px;top:836.70px" width="128" height="23" role="img" aria-label="运行时间（小时）" ><title>运行时间（小时）</title><text x="4" y="16.5" font-size="15" fill="#1e2440">运行时间（小时）</text></svg><svg class="g" style="left:521.20px;top:691.00px" width="23" height="38" role="img" aria-label="概率" ><title>概率</title><text transform="translate(16.50,34.00) rotate(-90)" font-size="15" fill="#1e2440">概率</text></svg><table class="tb" style="left:13px;top:449px"><colgroup><col style="width:43px"><col style="width:100px"><col style="width:101px"></colgroup><tr><td class="k">10%</td><td></td><td class="n">1443.48</td></tr><tr><td class="k">25%</td><td></td><td class="n">2650.14</td></tr><tr><td class="k">50%</td><td></td><td class="n">4510.97</td></tr><tr><td class="k">75%</td><td></td><td class="n">6860.4</td></tr><tr><td class="k">90%</td><td></td><td class="n">9324.7</td></tr></table><svg class="g" style="left:57.40px;top:473.50px" width="56" height="18" role="img" aria-label="四分位数" ><title>四分位数</title><text x="4" y="13.2" font-size="12" fill="#1e2030">四分位数</text></svg><svg class="g" style="left:57.40px;top:494.50px" width="44" height="18" role="img" aria-label="中位数" ><title>中位数</title><text x="4" y="13.2" font-size="12" fill="#1e2030">中位数</text></svg><svg class="g" style="left:57.40px;top:515.50px" width="56" height="18" role="img" aria-label="四分位数" ><title>四分位数</title><text x="4" y="13.2" font-size="12" fill="#1e2030">四分位数</text></svg><table class="tb" style="left:519px;top:449px"><colgroup><col style="width:43px"><col style="width:100px"><col style="width:101px"></colgroup><tr><td class="k">10%</td><td></td><td class="n">848.772</td></tr><tr><td class="k">25%</td><td></td><td class="n">2882.55</td></tr><tr><td class="k">50%</td><td></td><td class="n">4916.33</td></tr><tr><td class="k">75%</td><td></td><td class="n">6950.11</td></tr><tr><td class="k">90%</td><td></td><td class="n">8983.89</td></tr></table><svg class="g" style="left:563.40px;top:473.50px" width="56" height="18" role="img" aria-label="四分位数" ><title>四分位数</title><text x="4" y="13.2" font-size="12" fill="#1e2030">四分位数</text></svg><svg class="g" style="left:563.40px;top:494.50px" width="44" height="18" role="img" aria-label="中位数" ><title>中位数</title><text x="4" y="13.2" font-size="12" fill="#1e2030">中位数</text></svg><svg class="g" style="left:563.40px;top:515.50px" width="56" height="18" role="img" aria-label="四分位数" ><title>四分位数</title><text x="4" y="13.2" font-size="12" fill="#1e2030">四分位数</text></svg><div class="ab" style="left:194px;top:687px;width:100px;height:20px;background:#fff;border:1px solid #b9bccb;text-align:right;padding-right:3px;font-size:12.6px;line-height:20.4px;color:#1e2846">5000</div><div class="ab" style="left:2px;top:863px;width:1007px;height:2px;background:#9c9fad;z-index:4"></div></body></html>
